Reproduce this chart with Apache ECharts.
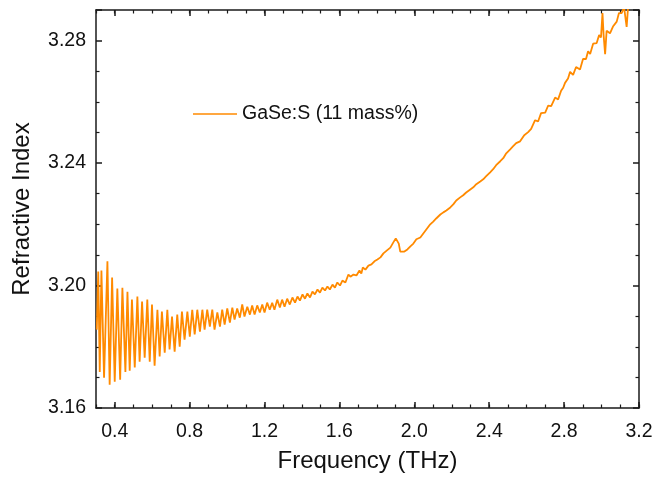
<!DOCTYPE html>
<html>
<head>
<meta charset="utf-8">
<script src="https://cdn.jsdelivr.net/npm/echarts@6/dist/echarts.min.js"></script>
<style>
  html, body { margin: 0; padding: 0; background: #fff; }
  #chart { width: 657px; height: 479px; }
</style>
</head>
<body>
<div id="chart"></div>
<script>
// frequency (THz)
const freqTHz = [
  0.304, 0.312, 0.320, 0.329, 0.343, 0.361, 0.373, 0.386, 0.400, 0.414,
  0.429, 0.441, 0.457, 0.468, 0.480, 0.492, 0.507, 0.521, 0.533, 0.546,
  0.560, 0.574, 0.587, 0.599, 0.613, 0.628, 0.640, 0.652, 0.667, 0.681,
  0.693, 0.706, 0.720, 0.734, 0.747, 0.759, 0.773, 0.788, 0.801, 0.814,
  0.827, 0.841, 0.855, 0.868, 0.880, 0.894, 0.908, 0.921, 0.933, 0.948,
  0.962, 0.974, 0.987, 1.001, 1.015, 1.028, 1.040, 1.054, 1.068, 1.081,
  1.093, 1.108, 1.122, 1.134, 1.147, 1.161, 1.175, 1.188, 1.200, 1.214,
  1.228, 1.241, 1.253, 1.268, 1.282, 1.294, 1.307, 1.321, 1.335, 1.349,
  1.363, 1.376, 1.389, 1.403, 1.416, 1.429, 1.443, 1.456, 1.469, 1.483,
  1.496, 1.509, 1.523, 1.536, 1.549, 1.563, 1.576, 1.589, 1.603, 1.616,
  1.632, 1.648, 1.659, 1.675, 1.691, 1.707, 1.717, 1.725, 1.739, 1.755,
  1.771, 1.787, 1.803, 1.819, 1.835, 1.854, 1.872, 1.888, 1.901, 1.909,
  1.917, 1.925, 1.933, 1.947, 1.963, 1.979, 1.995, 2.011, 2.032, 2.048,
  2.064, 2.085, 2.101, 2.117, 2.139, 2.155, 2.171, 2.192, 2.208, 2.224,
  2.245, 2.261, 2.277, 2.299, 2.315, 2.331, 2.352, 2.368, 2.384, 2.405,
  2.421, 2.437, 2.459, 2.475, 2.491, 2.512, 2.528, 2.544, 2.565, 2.587,
  2.608, 2.624, 2.645, 2.661, 2.677, 2.699, 2.715, 2.731, 2.752, 2.768,
  2.784, 2.795, 2.805, 2.821, 2.832, 2.848, 2.864, 2.885, 2.901, 2.917,
  2.928, 2.939, 2.955, 2.974, 2.987, 2.997, 3.005, 3.011, 3.019, 3.027,
  3.045, 3.061, 3.081, 3.093, 3.108, 3.120, 3.134, 3.141, 3.163, 3.184,
  3.200
];
// refractive index
const refIndex = [
  3.1856, 3.2046, 3.1718, 3.2049, 3.1699, 3.2079, 3.1676, 3.2026, 3.1686, 3.1990,
  3.1692, 3.1993, 3.1718, 3.1980, 3.1722, 3.1954, 3.1732, 3.1964, 3.1751, 3.1948,
  3.1764, 3.1954, 3.1751, 3.1938, 3.1738, 3.1921, 3.1768, 3.1915, 3.1781, 3.1921,
  3.1791, 3.1899, 3.1784, 3.1905, 3.1800, 3.1915, 3.1823, 3.1915, 3.1833, 3.1921,
  3.1840, 3.1921, 3.1849, 3.1921, 3.1856, 3.1921, 3.1866, 3.1921, 3.1856, 3.1912,
  3.1866, 3.1921, 3.1872, 3.1925, 3.1879, 3.1928, 3.1889, 3.1925, 3.1895, 3.1938,
  3.1899, 3.1931, 3.1905, 3.1935, 3.1905, 3.1935, 3.1912, 3.1938, 3.1912, 3.1944,
  3.1921, 3.1944, 3.1921, 3.1954, 3.1928, 3.1954, 3.1931, 3.1957, 3.1938, 3.1961,
  3.1944, 3.1964, 3.1951, 3.1971, 3.1957, 3.1974, 3.1961, 3.1980, 3.1971, 3.1987,
  3.1977, 3.1993, 3.1984, 3.1997, 3.1987, 3.2003, 3.1993, 3.2010, 3.2000, 3.2016,
  3.2010, 3.2036, 3.2029, 3.2036, 3.2033, 3.2049, 3.2039, 3.2059, 3.2052, 3.2065,
  3.2069, 3.2079, 3.2085, 3.2092, 3.2105, 3.2115, 3.2124, 3.2141, 3.2154, 3.2157,
  3.2137, 3.2111, 3.2105, 3.2111, 3.2118, 3.2128, 3.2137, 3.2151, 3.2157, 3.2170,
  3.2183, 3.2200, 3.2209, 3.2219, 3.2232, 3.2239, 3.2245, 3.2255, 3.2265, 3.2278,
  3.2288, 3.2295, 3.2304, 3.2314, 3.2321, 3.2331, 3.2340, 3.2347, 3.2357, 3.2370,
  3.2380, 3.2393, 3.2406, 3.2416, 3.2432, 3.2445, 3.2455, 3.2465, 3.2471, 3.2491,
  3.2501, 3.2512, 3.2540, 3.2536, 3.2563, 3.2565, 3.2588, 3.2586, 3.2614, 3.2608,
  3.2636, 3.2646, 3.2662, 3.2676, 3.2698, 3.2688, 3.2714, 3.2706, 3.2740, 3.2740,
  3.2765, 3.2756, 3.2790, 3.2792, 3.2818, 3.2810, 3.2890, 3.2818, 3.2756, 3.2832,
  3.2824, 3.2846, 3.2862, 3.2890, 3.2890, 3.2910, 3.2845, 3.2904, 3.2917, 3.2920,
  3.2923
];
const xMajorTicks = [0.4, 0.8, 1.2, 1.6, 2.0, 2.4, 2.8, 3.2];
const seriesName = 'GaSe:S (11 mass%)';

const FONT = 'Liberation Sans, Arial, sans-serif';
const AXIS_COLOR = '#1a1a1a';
const LINE_COLOR = '#ff8a00';

const chart = echarts.init(document.getElementById('chart'));

function xAxisBase (position, major, showLabel) {
  return {
    type: 'value',
    position: position,
    min: 0.3,
    max: 3.2,
    interval: major ? undefined : 0.1,
    axisLine: { show: major, onZero: false, lineStyle: { color: AXIS_COLOR, width: 1.5 } },
    axisTick: major
      ? { show: true, inside: true, length: 6, customValues: xMajorTicks, lineStyle: { color: AXIS_COLOR, width: 1.5 } }
      : { show: true, inside: true, length: 3.5, lineStyle: { color: AXIS_COLOR, width: 1.2 } },
    axisLabel: major && showLabel
      ? {
          show: true,
          customValues: xMajorTicks,
          margin: 14,
          color: '#111',
          fontFamily: FONT,
          fontSize: 19.5,
          formatter: function (v) { return v.toFixed(1) }
        }
      : { show: false },
    splitLine: { show: false }
  }
}

function yAxisBase (position, showLabel) {
  return {
    type: 'value',
    position: position,
    min: 3.16,
    max: 3.29,
    interval: 0.04,
    name: showLabel ? 'Refractive Index' : '',
    nameLocation: 'middle',
    nameGap: 62,
    nameTextStyle: { fontFamily: FONT, fontSize: 24, color: '#111' },
    axisLine: { show: true, onZero: false, lineStyle: { color: AXIS_COLOR, width: 1.5 } },
    axisTick: { show: true, inside: true, length: 6, lineStyle: { color: AXIS_COLOR, width: 1.5 } },
    minorTick: { show: true, splitNumber: 4, length: 3.5, lineStyle: { color: AXIS_COLOR, width: 1.2 } },
    axisLabel: {
      show: showLabel,
      showMaxLabel: false,
      margin: 10,
      color: '#111',
      fontFamily: FONT,
      fontSize: 19.5,
      formatter: function (v) { return v.toFixed(2) }
    },
    splitLine: { show: false },
    minorSplitLine: { show: false }
  }
}

const bottomMajor = xAxisBase('bottom', true, true)
bottomMajor.name = 'Frequency (THz)'
bottomMajor.nameLocation = 'middle'
bottomMajor.nameGap = 41
bottomMajor.nameTextStyle = { fontFamily: FONT, fontSize: 24, color: '#111' }

chart.setOption({
  backgroundColor: '#fff',
  animation: false,
  grid: { left: 96, right: 18, top: 10, bottom: 71, containLabel: false },
  legend: {
    left: 193,
    top: 104,
    padding: 0,
    icon: 'rect',
    itemWidth: 44,
    itemHeight: 1.6,
    itemGap: 5,
    textStyle: { fontFamily: FONT, fontSize: 19.5, color: '#111' },
    data: [seriesName]
  },
  xAxis: [
    bottomMajor,
    xAxisBase('bottom', false, false),
    xAxisBase('top', true, false),
    xAxisBase('top', false, false)
  ],
  yAxis: [
    yAxisBase('left', true),
    yAxisBase('right', false)
  ],
  series: [{
    name: seriesName,
    type: 'line',
    xAxisIndex: 0,
    yAxisIndex: 0,
    symbol: 'none',
    clip: true,
    lineStyle: { color: LINE_COLOR, width: 1.8 },
    itemStyle: { color: LINE_COLOR },
    data: freqTHz.map((f, i) => [f, refIndex[i]])
  }]
})
</script>
</body>
</html>
